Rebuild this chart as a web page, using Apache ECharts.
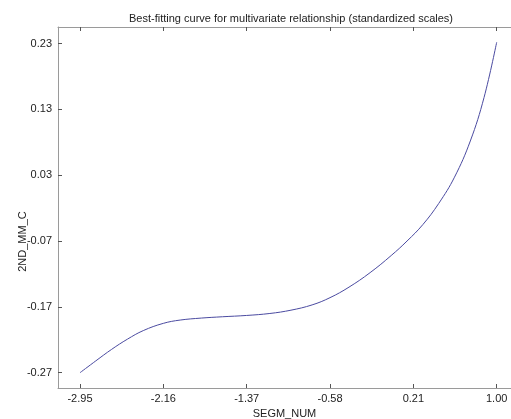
<!DOCTYPE html>
<html>
<head>
<meta charset="utf-8">
<script src="https://cdn.jsdelivr.net/npm/echarts@6/dist/echarts.min.js"></script>
<style>
  html, body { margin: 0; padding: 0; background: #fff; }
  #chart { width: 511px; height: 419px; }
</style>
</head>
<body>
<div id="chart"></div>
<script>
  // curve
  var segmNum = [-2.95, -2.80, -2.65, -2.50, -2.35, -2.16, -2.00, -1.80, -1.60, -1.37, -1.15, -0.95,
    -0.75, -0.58, -0.40, -0.20, 0.00, 0.15, 0.30, 0.45, 0.60, 0.75, 0.88, 1.00]
  var mmC = [-0.270, -0.252, -0.2345, -0.219, -0.206, -0.195, -0.190, -0.187, -0.185, -0.183, -0.180, -0.175,
    -0.167, -0.156, -0.140, -0.118, -0.092, -0.070, -0.045, -0.013, 0.027, 0.082, 0.148, 0.232]
  var xTicks = [-2.95, -2.16, -1.37, -0.58, 0.21, 1.00]
  var yTicks = [-0.27, -0.17, -0.07, 0.03, 0.13, 0.23]

  var points = segmNum.map(function (x, i) { return [x, mmC[i]] })
  var font = 'Liberation Sans, Arial, sans-serif'
  var lineCol = '#9a9a9a'

  var chart = echarts.init(document.getElementById('chart'))
  chart.setOption({
    animation: false,
    title: {
      text: 'Best-fitting curve for multivariate relationship (standardized scales)',
      left: 286,
      textAlign: 'center',
      top: 8,
      textStyle: { fontFamily: font, fontSize: 11, fontWeight: 'normal', color: '#222' },
    },
    grid: { left: 58, top: 27, right: 0, bottom: 31, outerBoundsMode: 'none' },
    xAxis: [
      {
        type: 'value',
        min: -3.1585,
        max: 1.1356,
        name: 'SEGM_NUM',
        nameLocation: 'middle',
        nameGap: 19,
        nameTextStyle: { fontFamily: font, fontSize: 11, color: '#222' },
        splitLine: { show: false },
        axisLine: { onZero: false, lineStyle: { color: lineCol } },
        axisTick: { inside: true, length: 4, customValues: xTicks, lineStyle: { color: '#555' } },
        axisLabel: {
          customValues: xTicks,
          margin: 5,
          fontFamily: font,
          fontSize: 11,
          color: '#222',
          formatter: function (v) { return v.toFixed(2) },
        },
      },
      {
        type: 'value',
        position: 'top',
        min: -3.1585,
        max: 1.1356,
        splitLine: { show: false },
        axisLine: { onZero: false, lineStyle: { color: lineCol } },
        axisTick: { inside: true, length: 4, customValues: xTicks, lineStyle: { color: '#555' } },
        axisLabel: { show: false },
      },
    ],
    yAxis: {
      type: 'value',
      min: -0.2932,
      max: 0.2551,
      name: '2ND_MM_C',
      nameLocation: 'middle',
      nameGap: 30,
      nameMoveOverlap: false,
      nameTextStyle: { fontFamily: font, fontSize: 11, color: '#222', padding: [0, 68, 0, 0] },
      splitLine: { show: false },
      axisLine: { show: true, onZero: false, lineStyle: { color: lineCol } },
      axisTick: { show: true, inside: true, length: 4, customValues: yTicks, lineStyle: { color: '#555' } },
      axisLabel: {
        customValues: yTicks,
        margin: 6,
        fontFamily: font,
        fontSize: 11,
        color: '#222',
        formatter: function (v) { return v.toFixed(2) },
      },
    },
    series: [
      {
        type: 'line',
        data: points,
        smooth: 0.4,
        showSymbol: false,
        lineStyle: { color: '#4a4aa0', width: 1 },
      },
    ],
  })
</script>
</body>
</html>
